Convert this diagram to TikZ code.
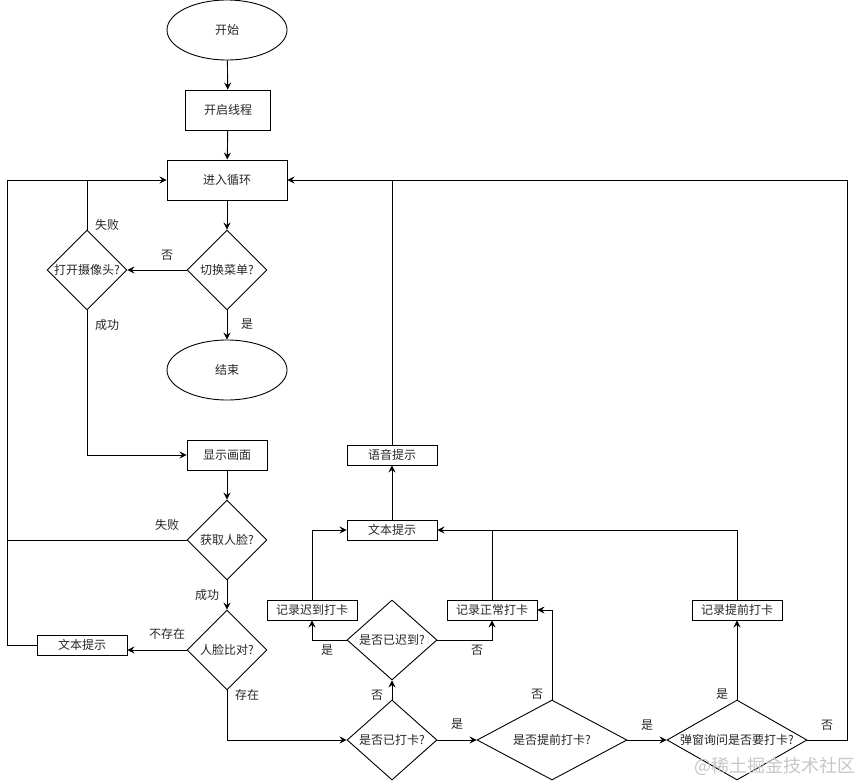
\documentclass[tikz,border=0pt]{standalone}
\usepackage{fontspec}
\newfontfamily\cjk{Noto Sans CJK SC}
\usetikzlibrary{shapes.geometric,arrows.meta}
\begin{document}
\begin{tikzpicture}[x=1pt,y=-1pt,
  font=\cjk\fontsize{12}{14}\selectfont,
  every node/.style={text=black!85},
  line/.style={draw=black, line width=0.9pt},
  arr/.style={line, -{Stealth[length=7pt,width=7pt,inset=2.5pt]}},
  box/.style={rectangle, draw, line width=0.9pt, inner sep=0pt, minimum width=90pt, minimum height=20pt},
  dia/.style={diamond, draw, line width=0.9pt, inner sep=0pt, minimum width=80pt, minimum height=80pt},
  oval/.style={ellipse, draw, line width=0.9pt, inner sep=0pt, minimum width=120pt, minimum height=60pt},
  lbl/.style={inner sep=1pt},
  wm/.style={text=black!22, font=\cjk\fontsize{18}{20}\selectfont, inner sep=0pt}]
\useasboundingbox (0,0) rectangle (858,781);

% nodes
\node[oval] (start) at (227,30) {开始};
\node[box, minimum width=85pt, minimum height=40pt] (thread) at (228,110) {开启线程};
\node[box, minimum width=120pt, minimum height=40pt] (loop) at (227,180) {进入循环};
\node[dia, label={[lbl]center:切换菜单?}] (menu) at (227,270) {};
\node[dia, label={[lbl]center:打开摄像头?}] (cam) at (87,270) {};
\node[oval] (end) at (227,370) {结束};
\node[box, minimum width=80pt, minimum height=30pt] (show) at (227,455) {显示画面};
\node[dia, label={[lbl]center:获取人脸?}] (face) at (227,540) {};
\node[dia, label={[lbl]center:人脸比对?}] (cmp) at (227,650) {};
\node[box] (txtL) at (82,645) {文本提示};
\node[box] (voice) at (392,455) {语音提示};
\node[box] (txtR) at (392,530) {文本提示};
\node[box] (recLate) at (312,610) {记录迟到打卡};
\node[box] (recNorm) at (492,610) {记录正常打卡};
\node[box] (recEarly) at (737,610) {记录提前打卡};
\node[dia, minimum width=90pt, label={[lbl]center:是否已迟到?}] (late) at (392,640) {};
\node[dia, minimum width=90pt, label={[lbl]center:是否已打卡?}] (chk) at (392,740) {};
\node[dia, minimum width=150pt, label={[lbl]center:是否提前打卡?}] (early) at (552,740) {};
\node[dia, minimum width=140pt, label={[lbl]center:弹窗询问是否要打卡?}] (ask) at (737,740) {};

\coordinate (L) at (7,180);
\coordinate (R) at (847,180);

% connectors
\draw[arr] (start) -- (thread);
\draw[arr] (thread) -- (loop);
\draw[arr] (loop) -- (menu);
\draw[arr] (menu) -- (end);
\draw[arr] (menu) -- (cam);
\draw[arr] (cam.south) |- (show.west);
\draw[line] (cam.north) -- (cam.north |- loop.west);
\draw[arr] (txtL.west) -- (txtL.west -| L) -- (L) -- (loop.west);
\draw[line] (face.west) -- (face.west -| L);
\draw[arr] (show) -- (face);
\draw[arr] (face) -- (cmp);
\draw[arr] (cmp.west) -- (cmp.west -| txtL.east);
\draw[arr] (cmp.south) |- (chk.west);
\draw[arr] (chk) -- (late);
\draw[arr] (late.west) -| (recLate.south);
\draw[arr] (late.east) -| (recNorm.south);
\draw[arr] (recLate.north) |- (txtR.west);
\draw[arr] (recEarly.north) |- (txtR.east);
\draw[line] (recNorm.north) -- (recNorm.north |- txtR.east);
\draw[arr] (txtR) -- (voice);
\draw[line] (voice.north) -- (voice.north |- loop.east);
\draw[arr] (chk.east) -- (early.west);
\draw[arr] (early.north) |- (recNorm.east);
\draw[arr] (early.east) -- (ask.west);
\draw[arr] (ask) -- (recEarly);
\draw[arr] (ask.east) -- (ask.east -| R) -- (R) -- (loop.east);

% edge labels
\node[lbl] (l1) at (107,225) {失败};
\node[lbl] (l2) at (167,255) {否};
\node[lbl] (l3) at (107,325) {成功};
\node[lbl] (l4) at (247,324) {是};
\node[lbl] (l5) at (167,525) {失败};
\node[lbl] (l6) at (207,595) {成功};
\node[lbl] (l7) at (167,634) {不存在};
\node[lbl] (l8) at (247,695) {存在};
\node[lbl] (l9) at (327,650) {是};
\node[lbl] (l10) at (477,650) {否};
\node[lbl] (l11) at (377,695) {否};
\node[lbl] (l12) at (457,724) {是};
\node[lbl] (l13) at (537,694) {否};
\node[lbl] (l14) at (647,725) {是};
\node[lbl] (l15) at (722,694) {是};
\node[lbl] (l16) at (827,725) {否};

% watermark
\node[wm, anchor=east] (wmk) at (856,766) {@稀土掘金技术社区};
\end{tikzpicture}
\end{document}
